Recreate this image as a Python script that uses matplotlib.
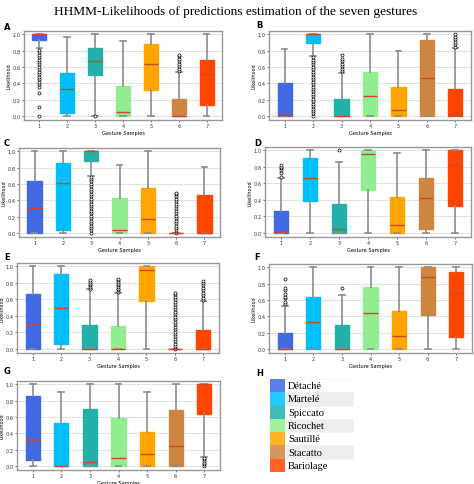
import numpy as np
import matplotlib
matplotlib.use('Agg')
import matplotlib.pyplot as plt
from matplotlib.patches import Rectangle

W, H = 474, 485

gestures = ['Détaché', 'Martelé', 'Spiccato', 'Ricochet', 'Sautillé', 'Stacatto', 'Bariolage']
colors = ['#4169e1', '#00bfff', '#20b2aa', '#90ee90', '#ffa500', '#cd853f', '#ff4500']
samples = [1, 2, 3, 4, 5, 6, 7]

# rows: low whisker, Q1, median, Q3, high whisker ; columns: gesture samples 1..7
A_stats = [[0.83, 0.00, 0.00, 0.00, 0.00, 0.00, 0.00],
           [0.93, 0.03, 0.50, 0.00, 0.32, 0.00, 0.13],
           [1.00, 0.33, 0.67, 0.05, 0.64, 0.00, 0.51],
           [1.00, 0.53, 0.83, 0.37, 0.88, 0.21, 0.68],
           [1.00, 0.97, 1.00, 0.92, 1.00, 0.54, 1.00]]
B_stats = [[0.00, 0.73, 0.00, 0.00, 0.00, 0.00, 0.00],
           [0.00, 0.89, 0.00, 0.00, 0.00, 0.00, 0.00],
           [0.01, 1.00, 0.00, 0.25, 0.07, 0.47, 0.01],
           [0.40, 1.00, 0.21, 0.54, 0.36, 0.93, 0.33],
           [0.82, 1.00, 0.53, 1.00, 0.79, 1.00, 0.83]]
C_stats = [[0.00, 0.00, 0.70, 0.00, 0.00, 0.00, 0.00],
           [0.00, 0.04, 0.88, 0.00, 0.00, 0.00, 0.00],
           [0.31, 0.61, 1.00, 0.04, 0.17, 0.00, 0.00],
           [0.64, 0.86, 1.00, 0.43, 0.55, 0.00, 0.46],
           [1.00, 1.00, 1.00, 0.83, 1.00, 0.00, 0.81]]
D_stats = [[0.00, 0.00, 0.00, 0.00, 0.00, 0.00, 0.00],
           [0.00, 0.38, 0.00, 0.52, 0.00, 0.05, 0.33],
           [0.01, 0.67, 0.05, 0.95, 0.10, 0.42, 0.82],
           [0.26, 0.91, 0.35, 1.00, 0.43, 0.66, 1.00],
           [0.66, 1.00, 0.86, 1.00, 0.97, 1.00, 1.00]]
E_stats = [[0.00, 0.00, 0.00, 0.00, 0.00, 0.00, 0.00],
           [0.00, 0.06, 0.00, 0.00, 0.58, 0.00, 0.00],
           [0.30, 0.49, 0.00, 0.00, 0.96, 0.00, 0.00],
           [0.66, 0.91, 0.29, 0.28, 1.00, 0.00, 0.23],
           [1.00, 1.00, 0.72, 0.68, 1.00, 0.00, 0.58]]
F_stats = [[0.00, 0.00, 0.00, 0.00, 0.00, 0.00, 0.00],
           [0.00, 0.00, 0.00, 0.00, 0.00, 0.41, 0.14],
           [0.00, 0.33, 0.00, 0.44, 0.16, 0.88, 0.69],
           [0.20, 0.64, 0.29, 0.76, 0.47, 1.00, 0.94],
           [0.52, 1.00, 0.66, 1.00, 1.00, 1.00, 1.00]]
G_stats = [[0.00, 0.00, 0.00, 0.00, 0.00, 0.00, 0.11],
           [0.07, 0.00, 0.00, 0.00, 0.00, 0.00, 0.64],
           [0.32, 0.00, 0.05, 0.10, 0.15, 0.25, 1.00],
           [0.86, 0.53, 0.70, 0.59, 0.42, 0.69, 1.00],
           [1.00, 0.91, 1.00, 1.00, 0.91, 1.00, 1.00]]

# outliers per gesture sample
A_fliers = [[0.0, 0.11, 0.28, 0.36, 0.39, 0.42, 0.45, 0.48, 0.51, 0.54, 0.57, 0.60, 0.63, 0.66, 0.69, 0.72, 0.75, 0.78, 0.81],
            [], [0.0], [], [],
            [0.55, 0.58, 0.61, 0.64, 0.67, 0.70, 0.73, 0.75], []]
B_fliers = [[],
            [0.0, 0.03, 0.06, 0.09, 0.12, 0.15, 0.18, 0.21, 0.24, 0.27, 0.30, 0.33, 0.36, 0.39, 0.42, 0.45, 0.48, 0.51, 0.54, 0.57, 0.60, 0.63, 0.66, 0.69, 0.72],
            [0.55, 0.58, 0.61, 0.64, 0.67, 0.70, 0.75], [], [], [],
            [0.85, 0.88, 0.91, 0.94, 0.97, 1.0]]
C_fliers = [[], [],
            [0.0, 0.03, 0.06, 0.09, 0.12, 0.15, 0.18, 0.21, 0.24, 0.27, 0.30, 0.33, 0.36, 0.39, 0.42, 0.45, 0.48, 0.51, 0.54, 0.57, 0.60, 0.63, 0.66, 0.69],
            [], [],
            [0.0, 0.03, 0.06, 0.09, 0.12, 0.15, 0.18, 0.21, 0.24, 0.27, 0.30, 0.33, 0.36, 0.39, 0.42, 0.45, 0.48, 0.49],
            []]
D_fliers = [[0.68, 0.72, 0.76, 0.78, 0.80, 0.82], [], [1.0], [], [], [], []]
E_fliers = [[], [],
            [0.73, 0.75, 0.77, 0.79, 0.81, 0.83],
            [0.69, 0.71, 0.73, 0.75, 0.77, 0.79, 0.81, 0.83, 0.85],
            [],
            [0.0, 0.03, 0.06, 0.09, 0.12, 0.15, 0.18, 0.21, 0.24, 0.27, 0.30, 0.33, 0.36, 0.39, 0.42, 0.45, 0.48, 0.51, 0.54, 0.57, 0.60, 0.63, 0.66, 0.68],
            [0.59, 0.62, 0.65, 0.68, 0.71, 0.74, 0.77, 0.80, 0.82]]
F_fliers = [[0.55, 0.58, 0.62, 0.64, 0.67, 0.72, 0.75, 0.86], [], [0.74], [], [], [], []]
G_fliers = [[], [], [], [], [], [], [0.0, 0.02, 0.04, 0.06, 0.08, 0.10]]

panels = [
    ('A', A_stats, A_fliers, (24, 32, 222, 121), (4, 27)),
    ('B', B_stats, B_fliers, (269, 32, 471, 121), (256, 25)),
    ('C', C_stats, C_fliers, (19, 149, 220, 238), (4, 143)),
    ('D', D_stats, D_fliers, (265, 148, 471, 238), (254, 143)),
    ('E', E_stats, E_fliers, (17, 264, 219, 354), (4, 258)),
    ('F', F_stats, F_fliers, (269, 265, 472, 354), (254, 257)),
    ('G', G_stats, G_fliers, (17, 382, 220, 471), (4, 372)),
]


def px(l, t, r, b):
    return [l / W, 1 - b / H, (r - l) / W, (b - t) / H]


fig = plt.figure(figsize=(W / 100, H / 100), dpi=100)
fig.text(236 / W, 1 - 12 / H, 'HHMM-Likelihoods of predictions estimation of the seven gestures',
         ha='center', va='center', fontsize=9.6, family='Liberation Serif')

for name, st, fl, box, lab in panels:
    ax = fig.add_axes(px(*box))
    stats = []
    for i in range(7):
        stats.append(dict(whislo=st[0][i], q1=st[1][i], med=st[2][i], q3=st[3][i],
                          whishi=st[4][i], fliers=fl[i]))
    bp = ax.bxp(stats, positions=samples, widths=0.5, capwidths=0.2, patch_artist=True,
                showfliers=True,
                whiskerprops=dict(color='#8c8c8c', lw=1.2),
                capprops=dict(color='#8c8c8c', lw=1.2),
                medianprops=dict(color='#d2452a', lw=1.0),
                flierprops=dict(marker='o', ms=2.2, mfc='white', mec='black', mew=0.5))
    for patch, c in zip(bp['boxes'], colors):
        patch.set_facecolor(c)
        patch.set_edgecolor(c)
    ax.set_xlim(0.45, 7.55)
    ax.set_ylim(-0.05, 1.04)
    ax.set_yticks([0.0, 0.2, 0.4, 0.6, 0.8, 1.0])
    ax.set_yticklabels(['0.0', '0.2', '0.4', '0.6', '0.8', '1.0'])
    ax.yaxis.grid(True, color='#dddddd', lw=0.6)
    ax.set_axisbelow(True)
    ax.tick_params(labelsize=3.6, length=1.5, width=0.5, pad=1.0, colors='#333333')
    for s in ax.spines.values():
        s.set_color('#999999')
        s.set_linewidth(1.0)
    ax.set_ylabel('Likelihood', fontsize=3.6, labelpad=1)
    ax.set_xlabel('Gesture Samples', fontsize=3.6, labelpad=1)
    fig.text(lab[0] / W, 1 - lab[1] / H, name, fontsize=6, fontweight='bold', va='center', ha='left')

# panel H: colour key
fig.text(256 / W, 1 - 373 / H, 'H', fontsize=6, fontweight='bold', va='center', ha='left')
kx = fig.add_axes(px(270, 380, 354, 473))
kx.set_xlim(0, 84)
kx.set_ylim(7, 0)
kx.axis('off')
for i, (g, c) in enumerate(zip(gestures, colors)):
    kx.add_patch(Rectangle((15, i), 69, 1, facecolor='#eeeeee' if i % 2 else 'white',
                           edgecolor='#f2f2f2', lw=0.4))
    kx.add_patch(Rectangle((0, i), 15, 1, facecolor=c, alpha=0.85, edgecolor='none'))
    kx.text(18, i + 0.5, g, fontsize=7.5, family='Liberation Serif', va='center', ha='left')

fig.savefig('out.png', dpi=100)
